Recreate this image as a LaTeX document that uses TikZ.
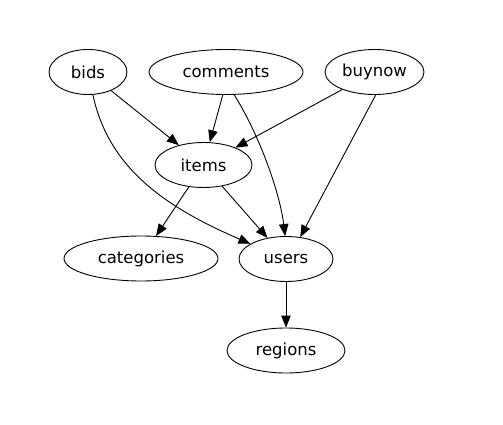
\documentclass[tikz,border=0pt]{standalone}
\usepackage{fontspec}
\setmainfont{DejaVu Sans}
\usetikzlibrary{shapes.geometric,arrows.meta}

\begin{document}
\begin{tikzpicture}[x=1pt,y=-1pt,
    table/.style={draw,ellipse,line width=0.9pt,minimum height=45pt,inner sep=0pt,
        font=\fontsize{16.5}{20}\selectfont},
    ref/.style={line width=0.9pt,-{Triangle[length=12pt,width=9.5pt]}}]
    \useasboundingbox (0,0) rectangle (503,425);
    % tables
    \node[table,minimum width=78pt]  (bids)       at (88,72)   {bids};
    \node[table,minimum width=154pt] (comments)   at (226,72)  {comments};
    \node[table,minimum width=99pt]  (buynow)     at (374.5,72) {buynow};
    \node[table,minimum width=97pt]  (items)      at (203.5,165) {items};
    \node[table,minimum width=154pt] (categories) at (141,258.5) {categories};
    \node[table,minimum width=94pt]  (users)      at (286,259) {users};
    \node[table,minimum width=118pt] (regions)    at (286,350.5) {regions};
    % references
    \draw[ref] (bids) -- (items);
    \draw[ref] (bids) .. controls (108,165) and (160,205) .. (users);
    \draw[ref] (comments.-98) -- (items);
    \draw[ref] (comments.-70) .. controls (262,140) and (280,195) .. (users.92);
    \draw[ref] (buynow) -- (items);
    \draw[ref] (buynow.-87) -- (users.57);
    \draw[ref] (items) -- (categories);
    \draw[ref] (items) -- (users);
    \draw[ref] (users) -- (regions);
\end{tikzpicture}
\end{document}
